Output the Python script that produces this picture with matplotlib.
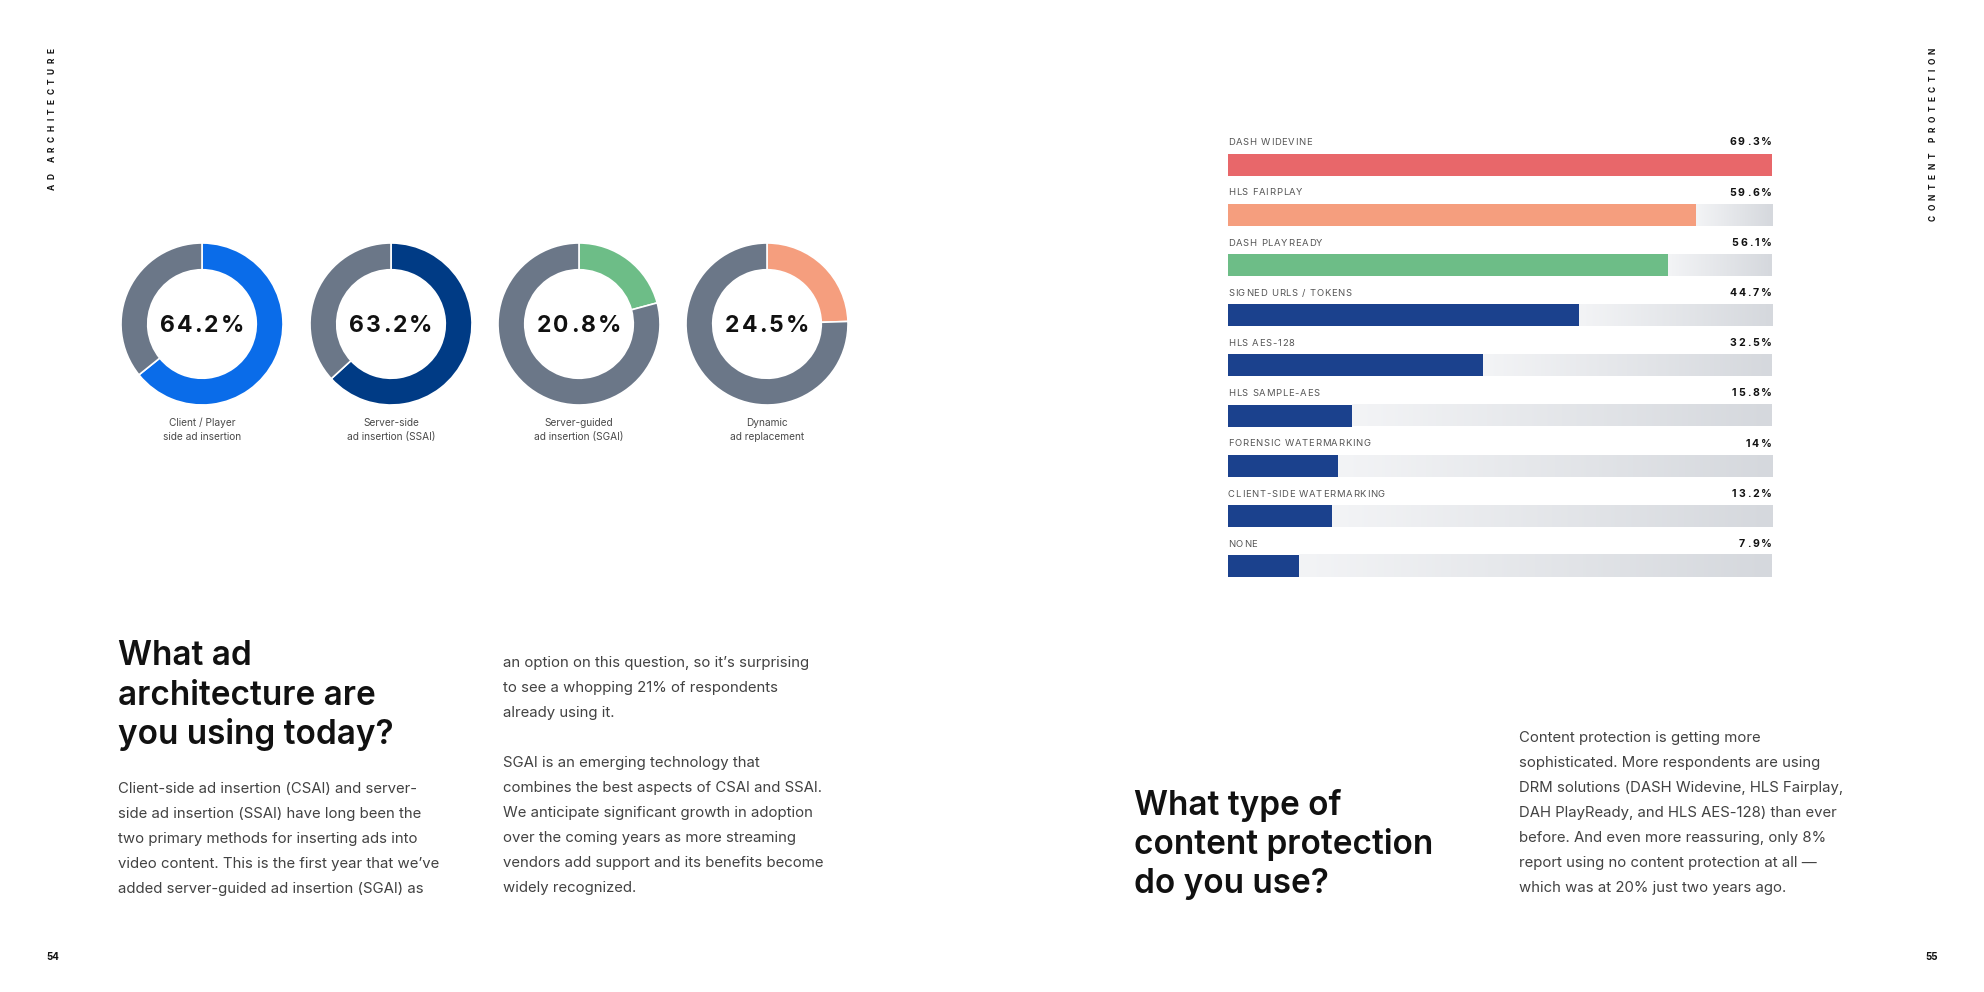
import matplotlib
matplotlib.use("Agg")
import matplotlib.pyplot as plt
import numpy as np
from matplotlib.transforms import IdentityTransform
from matplotlib.font_manager import FontProperties, findfont, get_font
from matplotlib.colors import LinearSegmentedColormap

W, H = 1984, 992
DPI = 100
FAM = ["Inter", "DejaVu Sans"]
plt.rcParams["font.family"] = FAM

# ---------------- data ----------------
donut_labels = ["Client / Player\nside ad insertion",
                "Server-side\nad insertion (SSAI)",
                "Server-guided\nad insertion (SGAI)",
                "Dynamic\nad replacement"]
donut_values = [64.2, 63.2, 20.8, 24.5]
donut_value_labels = ["64.2%", "63.2%", "20.8%", "24.5%"]
donut_colors = ["#0A6CE9", "#003B85", "#6DBD87", "#F59E7E"]
donut_rest_color = "#6B7788"

cp_categories = ["DASH WIDEVINE", "HLS FAIRPLAY", "DASH PLAYREADY",
                 "SIGNED URLS / TOKENS", "HLS AES-128", "HLS SAMPLE-AES",
                 "FORENSIC WATERMARKING", "CLIENT-SIDE WATERMARKING", "NONE"]
# bar lengths as drawn in the picture (the NONE bar is drawn a bit longer than 7.9)
cp_values = [69.3, 59.6, 56.1, 44.7, 32.5, 15.8, 14.0, 13.2, 9.1]
cp_value_labels = ["69.3%", "59.6%", "56.1%", "44.7%", "32.5%", "15.8%",
                   "14%", "13.2%", "7.9%"]
cp_colors = ["#E8676A", "#F59E7E", "#6DBD87"] + ["#1B418D"] * 6

left_heading = ["What ad", "architecture are", "you using today?"]
left_body = ["Client-side ad insertion (CSAI) and server-",
             "side ad insertion (SSAI) have long been the",
             "two primary methods for inserting ads into",
             "video content. This is the first year that we\u2019ve",
             "added server-guided ad insertion (SGAI) as"]
mid_body = ["an option on this question, so it\u2019s surprising",
            "to see a whopping 21% of respondents",
            "already using it.",
            "",
            "SGAI is an emerging technology that",
            "combines the best aspects of CSAI and SSAI.",
            "We anticipate significant growth in adoption",
            "over the coming years as more streaming",
            "vendors add support and its benefits become",
            "widely recognized."]
right_heading = ["What type of", "content protection", "do you use?"]
right_body = ["Content protection is getting more",
              "sophisticated. More respondents are using",
              "DRM solutions (DASH Widevine, HLS Fairplay,",
              "DAH PlayReady, and HLS AES-128) than ever",
              "before. And even more reassuring, only 8%",
              "report using no content protection at all \u2014",
              "which was at 20% just two years ago."]

# ---------------- figure ----------------
fig = plt.figure(figsize=(W / DPI, H / DPI), dpi=DPI)
fig.patch.set_facecolor("white")
renderer = fig.canvas.get_renderer()


def px_axes(x0, y0, w, h):
    return fig.add_axes([x0 / W, 1 - (y0 + h) / H, w / W, h / H])


def measure(s, fp):
    w, h, d = renderer.get_text_width_height_descent(s, fp, ismath=False)
    return w


def pen_positions(s, fp):
    try:
        font = get_font(findfont(fp))
        font.clear()
        font.set_size(fp.get_size_in_points(), DPI)
        xys = np.asarray(font.set_text(s, 0.0))
        pos = list(xys[:, 0] / 64.0)
        if len(pos) == len(s):
            return pos
    except Exception:
        pass
    bar = measure("|", fp)
    pos = [0.0]
    for i in range(1, len(s)):
        pos.append(measure(s[:i] + "|", fp) - bar)
    return pos


def tracked_text(x, y, s, tracking, ha="left", va="baseline", rotation=0,
                 fontsize=10, weight="normal", color="k"):
    """x, y in display pixels (origin bottom-left)."""
    fp = FontProperties(family=FAM, size=fontsize, weight=weight)
    pos = pen_positions(s, fp)
    total = measure(s, fp) + tracking * (len(s) - 1)
    off = {"left": 0.0, "center": -total / 2, "right": -total}[ha]
    ang = np.deg2rad(rotation)
    ux, uy = np.cos(ang), np.sin(ang)
    for i, ch in enumerate(s):
        if ch == " ":
            continue
        d = off + pos[i] + i * tracking
        fig.text(x + d * ux, y + d * uy, ch, transform=IdentityTransform(),
                 ha="left", va=va, rotation=rotation, rotation_mode="anchor",
                 fontproperties=fp, color=color)


def top_text(x, y, s, **kw):
    fig.text(x, H - y, s, transform=IdentityTransform(), **kw)


# ---------------- donuts ----------------
donut_cx = [202, 391, 579, 767]
donut_cy = 324
R = 81
for cx, val, vlab, col, lab in zip(donut_cx, donut_values, donut_value_labels,
                                   donut_colors, donut_labels):
    size = 2.5 * R
    ax = px_axes(cx - size / 2, donut_cy - size / 2, size, size)
    ax.pie([val, 100 - val], colors=[col, donut_rest_color], startangle=90,
           counterclock=False, radius=1.0,
           wedgeprops=dict(width=0.33, edgecolor="white", linewidth=1.2))
    ax.set_xlim(-1.25, 1.25)
    ax.set_ylim(-1.25, 1.25)
    ax.set_aspect("equal")
    ax.axis("off")
    dx, dy = ax.transData.transform((0, 0))
    tracked_text(dx, dy - 8.5, vlab, 2.1, ha="center", va="baseline",
                 fontsize=16.5, weight="bold", color="#111111")
    for k, line in enumerate(lab.split("\n")):
        top_text(cx, 423 + 14 * k, line, ha="center", va="center",
                 fontsize=7.3, color="#4a4a4a")

# ---------------- content protection bars ----------------
bx0, bx1 = 1228, 1772
row_gap = 50.2
top_row_center = 164.5
ax_top = top_row_center - row_gap / 2
bax = px_axes(bx0, ax_top, bx1 - bx0, row_gap * len(cp_values))
vmax = max(cp_values)
n = len(cp_values)
bar_h = 22 / row_gap
track_cmap = LinearSegmentedColormap.from_list("trk", ["#F3F4F6", "#D5D8DD"])
grad = np.linspace(0, 1, 256).reshape(1, -1)
for i in range(n):
    if cp_values[i] < vmax:
        bax.imshow(grad, extent=(cp_values[i], vmax, i + bar_h / 2, i - bar_h / 2),
                   cmap=track_cmap, aspect="auto", zorder=1,
                   interpolation="bilinear")
bax.barh(np.arange(n), cp_values, height=bar_h, color=cp_colors, zorder=2)
bax.set_xlim(0, vmax)
bax.set_ylim(n - 0.5, -0.5)
bax.axis("off")

label_off = 22.8 / row_gap
for i in range(n):
    lx, ly = bax.transData.transform((0, i - label_off))
    tracked_text(lx, ly - 3.4, cp_categories[i], 0.75, ha="left",
                 fontsize=6.8, color="#555555")
    rx, ry = bax.transData.transform((vmax, i - label_off))
    tracked_text(rx, ry - 3.6, cp_value_labels[i], 2.0, ha="right",
                 fontsize=7.6, weight="bold", color="#111111")

# ---------------- headings & body ----------------
for k, line in enumerate(left_heading):
    top_text(118, [665, 705, 744][k], line, ha="left", va="baseline",
             fontsize=24, weight="semibold", color="#111111")
for k, line in enumerate(right_heading):
    top_text(1134, [815, 854, 893][k], line, ha="left", va="baseline",
             fontsize=24, weight="semibold", color="#111111")

BODY_FS = 10.75
BODY_COL = "#424242"
for k, line in enumerate(left_body):
    top_text(118, 792.7 + 25 * k, line, ha="left", va="baseline",
             fontsize=BODY_FS, color=BODY_COL)
for k, line in enumerate(mid_body):
    if line:
        top_text(503, 667.3 + 25 * k, line, ha="left", va="baseline",
                 fontsize=BODY_FS, color=BODY_COL)
for k, line in enumerate(right_body):
    top_text(1519, 741.7 + 25 * k, line, ha="left", va="baseline",
             fontsize=BODY_FS, color=BODY_COL)

# ---------------- side labels & page numbers ----------------
tracked_text(52, H - 190, "AD ARCHITECTURE", 4.5, ha="left", va="center",
             rotation=90, fontsize=6, weight="bold", color="#111111")
tracked_text(1933, H - 221, "CONTENT PROTECTION", 4.5, ha="left", va="center",
             rotation=90, fontsize=6, weight="bold", color="#111111")
top_text(53, 956.5, "54", ha="center", va="center", fontsize=7,
         weight="bold", color="#111111")
top_text(1932, 956.5, "55", ha="center", va="center", fontsize=7,
         weight="bold", color="#111111")

fig.savefig("out.png", dpi=DPI, facecolor="white")
